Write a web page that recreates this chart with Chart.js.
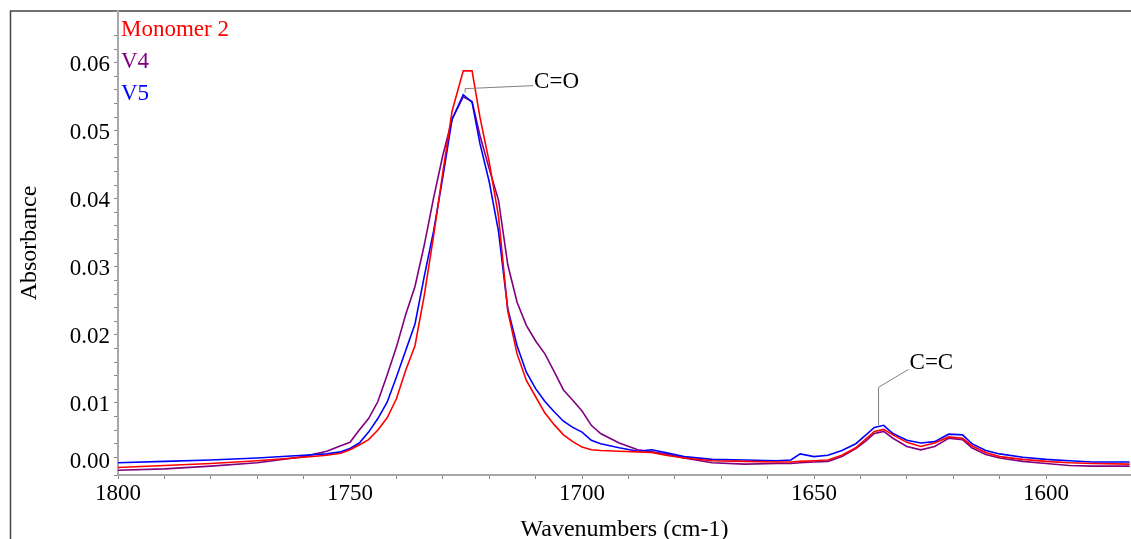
<!DOCTYPE html>
<html>
<head>
<meta charset="utf-8">
<script src="https://cdn.jsdelivr.net/npm/chart.js@4.4.1/dist/chart.umd.min.js"></script>
<style>
    html, body { margin: 0; padding: 0; background: #fff; }
    #wrap { position: relative; width: 1131px; height: 539px; }
</style>
</head>
<body>
<div id="wrap"><canvas id="graficoIR"></canvas></div>
<script>
// wavenumbers (cm-1) and absorbance of each sample
const wavenumbers = [1800, 1790, 1780, 1770, 1760, 1755, 1752, 1750, 1748, 1746, 1744, 1742, 1740, 1738, 1736, 1734,
    1732, 1730, 1728, 1725.6, 1723.7, 1722, 1720, 1718, 1716, 1714, 1712, 1710, 1708, 1706, 1704, 1702, 1700, 1698,
    1696, 1692, 1688, 1685, 1682, 1678, 1672, 1665, 1658, 1655, 1653, 1650, 1647, 1644, 1641, 1639, 1637, 1635, 1633,
    1630, 1627, 1624, 1621, 1618, 1616, 1613, 1610, 1605, 1600, 1595, 1590, 1582];

const monomer2 = [0.0005, 0.0008, 0.0011, 0.0015, 0.0020, 0.0023, 0.0026, 0.0031, 0.0038, 0.0046, 0.0060, 0.0078,
    0.0106, 0.0148, 0.0184, 0.0258, 0.0345, 0.0439, 0.0529, 0.0588, 0.0588, 0.0520, 0.0454, 0.0374, 0.0235, 0.0172,
    0.0133, 0.0109, 0.0085, 0.0068, 0.0053, 0.0043, 0.0035, 0.0031, 0.0030, 0.0029, 0.0028, 0.0027, 0.0023, 0.0019,
    0.0015, 0.0014, 0.0013, 0.0013, 0.0014, 0.0015, 0.0016, 0.0023, 0.0034, 0.0046, 0.0058, 0.0061, 0.0053,
    0.0042, 0.0036, 0.0041, 0.0050, 0.0048, 0.0037, 0.0027, 0.0021, 0.0017, 0.0014, 0.0012, 0.0011, 0.0010];

const v4 = [0.0001, 0.0003, 0.0007, 0.0012, 0.0021, 0.0029, 0.0037, 0.0042, 0.0060, 0.0077, 0.0102, 0.0141,
    0.0182, 0.0230, 0.0271, 0.0332, 0.0401, 0.0464, 0.0517, 0.0550, 0.0543, 0.0493, 0.0444, 0.0398, 0.0303, 0.0248,
    0.0214, 0.0191, 0.0172, 0.0146, 0.0119, 0.0104, 0.0088, 0.0067, 0.0055, 0.0041, 0.0031, 0.0028, 0.0025, 0.0019,
    0.0012, 0.0010, 0.0011, 0.0011, 0.0012, 0.0013, 0.0014, 0.0021, 0.0033, 0.0043, 0.0055, 0.0058, 0.0048,
    0.0036, 0.0031, 0.0036, 0.0048, 0.0046, 0.0034, 0.0024, 0.0019, 0.0014, 0.0011, 0.0008, 0.0007, 0.0007];

const v5 = [0.0012, 0.0014, 0.0016, 0.0019, 0.0023, 0.0025, 0.0028, 0.0033, 0.0041, 0.0057, 0.0077, 0.0101,
    0.0138, 0.0177, 0.0216, 0.0286, 0.0352, 0.0432, 0.0517, 0.0553, 0.0542, 0.0481, 0.0425, 0.0352, 0.0238, 0.0184,
    0.0145, 0.0121, 0.0102, 0.0087, 0.0073, 0.0064, 0.0057, 0.0045, 0.0040, 0.0034, 0.0029, 0.0031, 0.0027, 0.0021,
    0.0017, 0.0016, 0.0015, 0.0016, 0.0025, 0.0021, 0.0023, 0.0030, 0.0040, 0.0052, 0.0064, 0.0067, 0.0055,
    0.0045, 0.0041, 0.0043, 0.0054, 0.0053, 0.0040, 0.0030, 0.0025, 0.0020, 0.0017, 0.0015, 0.0013, 0.0013];

const seriesNames = ['Monomer 2', 'V4', 'V5'];
const seriesColors = ['#ff0000', '#800080', '#0000ff'];

// peak labels: [text, wavenumber, absorbance]
const peakLabels = [['C=O', 1725.2, 0.0556], ['C=C', 1636.1, 0.0067]];

const serif = '"Liberation Serif", "Times New Roman", serif';

function toPoints(values) {
    return wavenumbers.map((w, i) => ({ x: w, y: values[i] }));
}

// moldura da figura (so esquerda e topo aparecem)
const framePlugin = {
    id: 'frame',
    beforeDraw(chart) {
        const ctx = chart.ctx;
        ctx.save();
        ctx.strokeStyle = '#444';
        ctx.lineWidth = 1.5;
        ctx.beginPath();
        ctx.moveTo(10.5, chart.height);
        ctx.lineTo(10.5, 11);
        ctx.lineTo(chart.width, 11);
        ctx.stroke();
        ctx.restore();
    }
};

// legenda em texto colorido dentro da area do grafico
const textLegendPlugin = {
    id: 'textLegend',
    afterDraw(chart) {
        const ctx = chart.ctx;
        const area = chart.chartArea;
        ctx.save();
        ctx.font = '23px ' + serif;
        ctx.textBaseline = 'alphabetic';
        ctx.textAlign = 'left';
        seriesNames.forEach((name, i) => {
            ctx.fillStyle = seriesColors[i];
            ctx.fillText(name, area.left + 3, area.top + 25 + i * 32);
        });

        // o rotulo 0.00 fica deslocado para cima, como no original
        const ys = chart.scales.y;
        ctx.fillStyle = '#000';
        ctx.textAlign = 'right';
        ctx.textBaseline = 'middle';
        ctx.fillText('0.00', area.left - 8, ys.getPixelForValue(0) - 9);
        ctx.restore();
    }
};

// rotulos dos picos com linha guia
const peakPlugin = {
    id: 'peaks',
    afterDatasetsDraw(chart) {
        const ctx = chart.ctx;
        const xs = chart.scales.x;
        const ys = chart.scales.y;
        ctx.save();
        ctx.strokeStyle = '#808080';
        ctx.lineWidth = 1;
        ctx.fillStyle = '#000';
        ctx.font = '23px ' + serif;
        ctx.textBaseline = 'alphabetic';

        // C=O: tique curto e linha quase horizontal
        let px = xs.getPixelForValue(peakLabels[0][1]);
        let py = ys.getPixelForValue(peakLabels[0][2]);
        ctx.beginPath();
        ctx.moveTo(px, py);
        ctx.lineTo(px, py - 4);
        ctx.lineTo(px + 68, py - 7);
        ctx.stroke();
        ctx.fillText(peakLabels[0][0], px + 69, py - 5);

        // C=C: linha vertical e depois diagonal
        px = xs.getPixelForValue(peakLabels[1][1]);
        py = ys.getPixelForValue(peakLabels[1][2]);
        ctx.beginPath();
        ctx.moveTo(px, py);
        ctx.lineTo(px, py - 38);
        ctx.lineTo(px + 30, py - 56);
        ctx.stroke();
        ctx.fillText(peakLabels[1][0], px + 31, py - 56);
        ctx.restore();
    }
};

document.addEventListener('DOMContentLoaded', function () {
    const canvas = document.getElementById('graficoIR');

    new Chart(canvas, {
        type: 'line',
        data: {
            datasets: [
                { label: seriesNames[1], data: toPoints(v4), borderColor: seriesColors[1], order: 3 },
                { label: seriesNames[2], data: toPoints(v5), borderColor: seriesColors[2], order: 2 },
                { label: seriesNames[0], data: toPoints(monomer2), borderColor: seriesColors[0], order: 1 }
            ]
        },
        options: {
            responsive: true,
            maintainAspectRatio: false,
            animation: false,
            layout: { padding: { top: 11, left: 0, right: 0, bottom: 0 } },
            elements: {
                line: { borderWidth: 1.6, tension: 0, fill: false },
                point: { radius: 0, hoverRadius: 0 }
            },
            plugins: {
                legend: { display: false },
                tooltip: { enabled: false }
            },
            scales: {
                x: {
                    type: 'linear',
                    reverse: true,
                    min: 1581.7,
                    max: 1800,
                    afterFit: (scale) => {
                        scale.height = 64;
                        scale.paddingLeft = 0;
                        scale.paddingRight = 0;
                    },
                    border: { display: true, color: '#a8a8a8', width: 2 },
                    grid: { drawOnChartArea: false, drawTicks: true, tickLength: 4, tickColor: '#888', lineWidth: 1 },
                    ticks: {
                        stepSize: 10,
                        autoSkip: false,
                        maxRotation: 0,
                        padding: 1,
                        color: '#000',
                        font: { family: serif, size: 23 },
                        callback: (value) => Math.abs(value % 50) < 1e-6 ? String(value) : ''
                    },
                    title: {
                        display: true,
                        text: 'Wavenumbers (cm-1)',
                        color: '#000',
                        font: { family: serif, size: 24 },
                        padding: { top: 0, bottom: -5 }
                    }
                },
                y: {
                    min: -0.0006,
                    max: 0.0676,
                    afterFit: (scale) => {
                        scale.width = 118;
                        scale.paddingTop = 0;
                        scale.paddingBottom = 0;
                    },
                    border: { display: true, color: '#a8a8a8', width: 2 },
                    grid: { drawOnChartArea: false, drawTicks: true, tickLength: 4, tickColor: '#888', lineWidth: 1 },
                    ticks: {
                        stepSize: 0.002,
                        autoSkip: false,
                        padding: 4,
                        labelOffset: 2,
                        color: '#000',
                        font: { family: serif, size: 23 },
                        callback: (value) => {
                            const r = value / 0.01;
                            if (Math.abs(value) < 1e-9) return '';
                            return Math.abs(r - Math.round(r)) < 1e-6 ? value.toFixed(2) : '';
                        }
                    },
                    title: {
                        display: true,
                        text: 'Absorbance',
                        color: '#000',
                        font: { family: serif, size: 24 },
                        padding: { top: 15, bottom: 0 }
                    }
                }
            }
        },
        plugins: [framePlugin, textLegendPlugin, peakPlugin]
    });
});
</script>
</body>
</html>
